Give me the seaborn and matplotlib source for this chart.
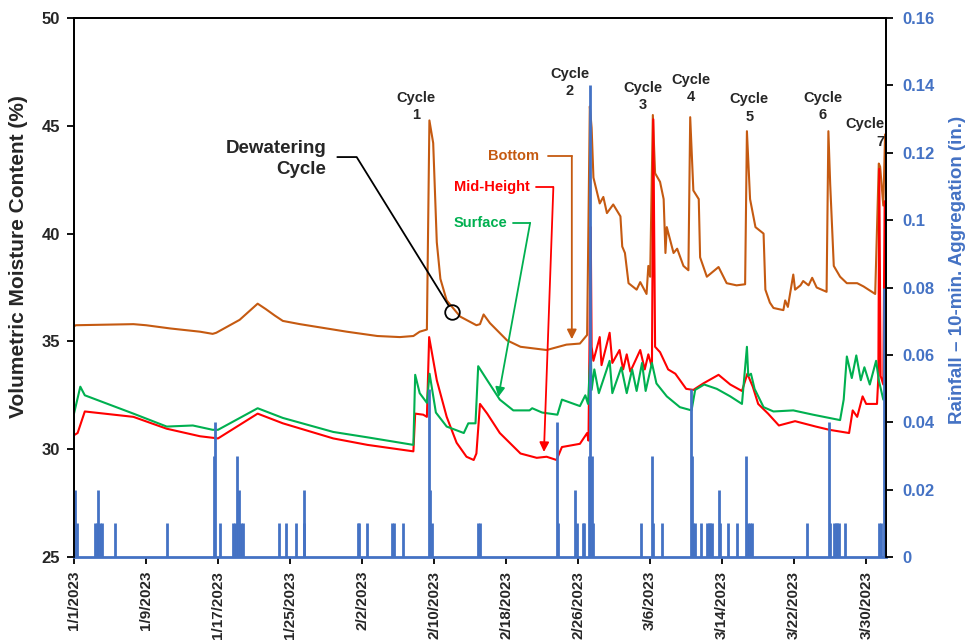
import pandas as pd
import matplotlib.pyplot as plt
import matplotlib.dates as mdates
import seaborn as sns

sns.set_style('white')
plt.rcParams['font.family'] = ['Liberation Sans', 'DejaVu Sans']
plt.rcParams['font.weight'] = 'bold'

BROWN = '#C55A11'
RED = '#FF0000'
GREEN = '#00B050'
BLUE = '#4472C4'

base = pd.Timestamp('2023-01-01')

# days elapsed since 1/1/2023 and moisture content (%)
bottom_days = [0.0, 0.2, 6.6, 8.0, 10.7, 14.0, 15.4, 15.8, 18.4, 20.4, 21.3, 22.3, 23.2, 25.1,
               30.3, 33.7, 36.2, 37.7, 38.4, 39.2, 39.48, 39.9, 40.3, 40.7, 41.4, 42.9, 44.7,
               45.1, 45.5, 46.2, 48.1, 49.6, 52.5, 54.7, 56.2, 57.0, 57.3, 57.5, 57.7, 58.4,
               58.8, 59.2, 59.9, 60.7, 60.9, 61.2, 61.6, 62.5, 62.9, 63.6, 63.8, 64.0, 64.3,
               64.55, 65.1, 65.5, 65.7, 65.85, 66.6, 67.0, 67.7, 68.25, 68.45, 68.8, 69.4,
               69.55, 70.3, 71.6, 72.5, 73.6, 74.55, 74.75, 75.1, 75.7, 76.6, 76.8, 77.3, 77.7,
               78.8, 79.0, 79.3, 79.9, 80.1, 80.7, 81.0, 81.6, 82.0, 82.5, 83.6, 83.8, 84.0,
               84.4, 85.1, 85.85, 87.0, 87.7, 89.0, 89.4, 89.55, 89.9, 90.1, 90.2]
bottom_vals = [35.7, 35.75, 35.8, 35.75, 35.6, 35.45, 35.35, 35.4, 36.0, 36.75, 36.5, 36.2, 35.95, 35.8,
               35.45, 35.25, 35.2, 35.25, 35.45, 35.55, 45.25, 44.2, 39.6, 37.9, 36.9, 36.15, 35.75,
               35.8, 36.25, 35.85, 35.05, 34.75, 34.6, 34.85, 34.9, 35.3, 45.9, 44.9, 42.6, 41.4,
               41.7, 40.95, 41.35, 40.8, 39.4, 39.1, 37.7, 37.4, 37.75, 37.2, 38.5, 38.0, 45.5,
               42.8, 42.4, 41.6, 39.1, 40.3, 39.1, 39.3, 38.5, 38.3, 45.4, 42.0, 41.6,
               38.9, 38.0, 38.45, 37.7, 37.6, 37.65, 44.75, 41.6, 40.3, 40.0, 37.4, 36.8, 36.55,
               36.45, 36.9, 36.6, 38.1, 37.4, 37.6, 37.8, 37.6, 37.95, 37.5, 37.3, 44.75, 42.3,
               38.5, 38.0, 37.7, 37.7, 37.55, 37.2, 43.25, 43.1, 41.3, 44.6, 44.6]

mid_days = [0.0, 0.4, 1.2, 6.6, 10.3, 14.0, 16.0, 20.4, 23.2, 28.8, 32.6, 37.7, 37.9, 38.8, 39.2,
            39.45, 40.3, 41.4, 42.5, 43.6, 44.4, 44.7, 45.1, 45.9, 47.3, 49.6, 51.4, 52.5, 53.6,
            54.2, 56.2, 57.0, 57.15, 57.4, 57.5, 57.7, 58.4, 58.6, 59.5, 59.8, 60.6, 61.0, 61.4,
            61.8, 62.9, 63.4, 63.8, 64.2, 64.35, 64.55, 65.1, 66.0, 66.8, 68.0, 68.8, 69.9,
            71.6, 72.9, 74.2, 74.8, 75.4, 76.0, 77.1, 78.3, 80.1, 82.4, 83.9, 86.1, 86.5,
            87.0, 87.6, 88.0, 89.2, 89.35, 89.45, 89.6, 89.9, 90.05, 90.2]
mid_vals = [30.65, 30.75, 31.75, 31.5, 30.95, 30.6, 30.5, 31.65, 31.2, 30.5, 30.2, 29.9, 31.65, 31.6, 31.5,
            35.2, 33.2, 31.5, 30.3, 29.65, 29.5, 29.8, 32.1, 31.65, 30.75, 29.8, 29.6, 29.65, 29.5,
            30.1, 30.25, 30.75, 30.4, 40.3, 34.75, 34.1, 35.2, 33.9, 35.4, 34.0, 34.6, 33.7, 34.4,
            33.6, 34.6, 33.7, 34.4, 33.8, 45.3, 34.75, 34.5, 33.7, 33.5, 32.8, 32.75, 33.05,
            33.45, 33.0, 32.7, 33.5, 32.9, 32.1, 31.65, 31.1, 31.3, 31.05, 30.9, 30.75, 31.8,
            31.5, 32.45, 32.1, 32.1, 33.35, 43.0, 33.4, 33.0, 41.5, 41.5]

surface_days = [0.0, 0.7, 1.2, 6.6, 10.3, 13.2, 15.4, 16.0, 20.4, 23.2, 28.8, 32.6, 37.7, 37.9,
                38.4, 39.2, 39.5, 40.2, 41.4, 43.3, 43.8, 44.6, 44.9, 45.9, 47.3, 48.8, 50.6,
                50.9, 52.0, 53.7, 54.2, 56.2, 56.8, 57.1, 57.4, 57.5, 57.8, 58.3, 59.5, 59.8,
                60.8, 61.4, 62.0, 62.5, 63.1, 63.5, 64.2, 64.7, 65.85, 67.3, 68.6, 69.0, 70.0,
                71.4, 72.9, 74.2, 74.75, 74.9, 75.2, 75.6, 76.6, 77.7, 79.9, 82.1, 85.1, 85.5,
                85.85, 86.4, 86.9, 87.4, 87.8, 88.4, 89.1, 89.4, 89.9, 90.2]
surface_vals = [31.65, 32.9, 32.5, 31.65, 31.05, 31.1, 30.9, 30.9, 31.9, 31.45, 30.8, 30.55, 30.2, 33.45,
                32.6, 32.15, 33.5, 31.7, 31.05, 30.75, 31.2, 31.2, 33.85, 33.2, 32.3, 31.8, 31.8,
                31.9, 31.7, 31.6, 32.3, 32.0, 32.5, 32.1, 34.75, 32.75, 33.7, 32.6, 34.1, 32.6,
                33.8, 32.6, 33.7, 32.7, 34.0, 32.7, 34.0, 33.05, 32.45, 31.95, 31.8, 32.75, 33.0,
                32.8, 32.45, 32.1, 34.75, 33.4, 33.5, 32.8, 31.95, 31.75, 31.8, 31.6, 31.35, 32.3,
                34.3, 33.3, 34.35, 33.2, 33.8, 33.0, 34.1, 33.2, 32.3, 32.5]

# rainfall, 10-min aggregation (in.)
rain_days = [0.1, 0.3, 2.3, 2.5, 2.7, 2.9, 3.1, 4.6, 10.3, 15.55, 15.7, 16.2, 17.7, 17.9, 18.15,
             18.3, 18.5, 18.8, 22.8, 23.6, 24.7, 25.5, 25.6, 31.5, 31.7, 32.6, 35.3, 35.5, 36.5,
             39.4, 39.6, 39.8, 44.9, 45.1, 53.7, 53.8, 55.7, 55.9, 56.5, 56.7, 57.25, 57.35,
             57.5, 57.7, 63.0, 64.2, 64.3, 65.3, 68.55, 68.65, 68.8, 69.0, 69.7, 70.3, 70.5,
             70.7, 70.9, 71.6, 71.8, 72.7, 73.6, 74.7, 74.9, 75.1, 75.3, 81.4, 83.9, 84.0,
             84.4, 84.6, 84.8, 85.0, 85.7, 89.4, 89.6, 89.95, 90.1]
rain_vals = [0.02, 0.01, 0.01, 0.01, 0.02, 0.01, 0.01, 0.01, 0.01, 0.03, 0.04, 0.01, 0.01, 0.01, 0.03,
             0.02, 0.01, 0.01, 0.01, 0.01, 0.01, 0.01, 0.02, 0.01, 0.01, 0.01, 0.01, 0.01, 0.01,
             0.05, 0.02, 0.01, 0.01, 0.01, 0.04, 0.01, 0.02, 0.01, 0.01, 0.01, 0.03, 0.14,
             0.03, 0.01, 0.01, 0.03, 0.01, 0.01, 0.05, 0.03, 0.01, 0.01, 0.01, 0.01, 0.01,
             0.01, 0.01, 0.02, 0.01, 0.01, 0.01, 0.03, 0.01, 0.01, 0.01, 0.01, 0.04, 0.01,
             0.01, 0.01, 0.01, 0.01, 0.01, 0.01, 0.01, 0.08, 0.02]

tick_labels = ['1/1/2023', '1/9/2023', '1/17/2023', '1/25/2023', '2/2/2023', '2/10/2023',
               '2/18/2023', '2/26/2023', '3/6/2023', '3/14/2023', '3/22/2023', '3/30/2023']
left_ticks = [25, 30, 35, 40, 45, 50]
right_ticks = [0, 0.02, 0.04, 0.06, 0.08, 0.1, 0.12, 0.14, 0.16]


def to_dates(days):
    return base + pd.to_timedelta(days, unit='D')


def dnum(day):
    return mdates.date2num(base + pd.Timedelta(days=day))


fig, ax = plt.subplots(figsize=(9.67, 6.44), dpi=100)
fig.subplots_adjust(left=74/967, right=886/967, top=1-18/644, bottom=1-557/644)

sns.lineplot(x=to_dates(bottom_days), y=bottom_vals, ax=ax, color=BROWN, lw=1.5)
sns.lineplot(x=to_dates(mid_days), y=mid_vals, ax=ax, color=RED, lw=1.5)
sns.lineplot(x=to_dates(surface_days), y=surface_vals, ax=ax, color=GREEN, lw=1.5)

ax2 = ax.twinx()
ax2.vlines(to_dates(rain_days), 0, rain_vals, color=BLUE, lw=2)

ax.set_xlim(base, base + pd.Timedelta(days=90.2))
ax.set_ylim(25, 50)
ax2.set_ylim(0, 0.16)

ax.set_xticks(pd.to_datetime(tick_labels, format='%m/%d/%Y'))
ax.set_xticklabels(tick_labels, rotation=90, fontsize=11, fontweight='bold')
ax.set_yticks(left_ticks)
ax.set_yticklabels([str(t) for t in left_ticks], fontsize=12, fontweight='bold')
ax2.set_yticks(right_ticks)
ax2.set_yticklabels(['%g' % t for t in right_ticks], fontsize=12, fontweight='bold', color=BLUE)

ax.tick_params(axis='both', direction='out', length=5, width=1.3, color='black', pad=5,
               bottom=True, left=True)
ax2.tick_params(axis='y', direction='out', length=5, width=1.3, color='black', pad=7)

for sp in ['top', 'left', 'right']:
    ax.spines[sp].set_color('black')
    ax.spines[sp].set_linewidth(1.3)
    ax2.spines[sp].set_color('black')
    ax2.spines[sp].set_linewidth(1.3)
ax.spines['bottom'].set_color(BLUE)
ax.spines['bottom'].set_linewidth(2)
ax2.spines['bottom'].set_visible(False)

ax.set_xlabel('')
ax.set_ylabel('Volumetric Moisture Content (%)', fontsize=15, fontweight='bold')
ax.yaxis.set_label_coords(-0.0567, 0.557)
ax2.set_ylabel('Rainfall \u2013 10-min. Aggregation (in.)', fontsize=13.5, fontweight='bold', color=BLUE)
ax2.yaxis.set_label_coords(1.0776, 0.533)

# cycle labels
cycles = [('Cycle\n1', 38.0, 45.88), ('Cycle\n2', 55.1, 47.0), ('Cycle\n3', 63.15, 46.35),
          ('Cycle\n4', 68.55, 46.73), ('Cycle\n5', 75.0, 45.83), ('Cycle\n6', 83.15, 45.89)]
for txt, dx, vy in cycles:
    ax.text(dnum(dx), vy, txt, ha='center', va='center', fontsize=10.5, fontweight='bold',
            linespacing=1.3)
ax.text(dnum(90.0), 44.67, 'Cycle\n7', ha='right', va='center', fontsize=10.5, fontweight='bold',
        linespacing=1.3, multialignment='right')

# dewatering cycle callout
ax.text(dnum(28.0), 43.47, 'Dewatering\nCycle', ha='right', va='center', fontsize=13.5,
        fontweight='bold', linespacing=1.3, multialignment='right')
ax.plot([dnum(29.25), dnum(31.4), dnum(41.6)], [43.55, 43.55, 36.67], color='black', lw=1.3)
ax.plot([dnum(42.03)], [36.38], marker='o', ms=10.5, mfc='none', mec='black', mew=1.3)

# series callouts
callouts = [('Bottom', BROWN, 51.7, 43.6, 52.6, 55.3, 55.3, 35.1),
            ('Mid-Height', RED, 50.67, 42.16, 51.33, 53.25, 52.2, 29.87),
            ('Surface', GREEN, 48.19, 40.5, 48.8, 50.67, 47.14, 32.42)]
for txt, col, tx, ty, x0, x1, ax_, ay in callouts:
    ax.text(dnum(tx), ty, txt, ha='right', va='center', fontsize=10.5, fontweight='bold', color=col)
    ax.plot([dnum(x0), dnum(x1)], [ty, ty], color=col, lw=1.3)
    ax.annotate('', xy=(dnum(ax_), ay), xytext=(dnum(x1), ty),
                arrowprops=dict(arrowstyle='-|>', color=col, lw=1.3, mutation_scale=14,
                                shrinkA=0, shrinkB=0))

plt.savefig('out.png', dpi=100)
